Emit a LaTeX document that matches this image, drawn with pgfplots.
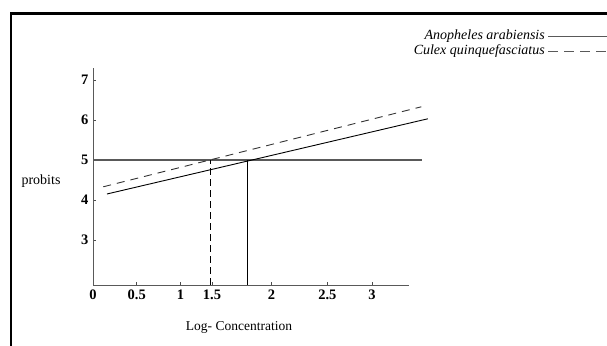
\documentclass[border=0pt]{standalone}
\usepackage{pgfplots}
\pgfplotsset{compat=1.18}
\usepackage{fontspec}
\setmainfont{Liberation Serif}
\begin{document}
\begin{tikzpicture}[x=1pt,y=1pt]
\useasboundingbox (0,0) rectangle (607,345);
\draw[line width=2.6pt] (11,-2) -- (11,331.5) -- (610,331.5);
\begin{axis}[
  at={(93pt,60pt)}, anchor=south west,
  scale only axis, width=316.2pt, height=217pt,
  xmin=0, xmax=3.4, ymin=1.875, ymax=7.3,
  axis x line=bottom, axis y line=left,
  axis line style={black!65, line width=0.8pt, -},
  clip=false,
  xtick={0,0.47,0.94,1.28,1.92,2.52,3.0},
  xticklabels={0,0.5,1,1.5,2,2.5,3},
  ytick={3,4,5,6,7},
  tick align=inside, major tick length=3pt,
  tick style={black!70, line width=0.6pt},
  ticklabel style={font=\fontsize{14.5}{16}\selectfont\bfseries},
  /pgf/number format/assume math mode=true,
  xticklabel style={yshift=-1pt},
  yticklabel style={xshift=-1pt},
]
\addplot[black!65, line width=1.2pt] coordinates {(0,5) (3.54,5)};
\addplot[black, line width=0.9pt] coordinates {(0.15,4.15) (3.6,6.03)};
\addplot[black!80, line width=0.9pt, dash pattern=on 8pt off 6pt] coordinates {(0.11,4.33) (3.53,6.33)};
\addplot[black, line width=0.9pt, dash pattern=on 7pt off 4pt] coordinates {(1.26,1.875) (1.26,5)};
\addplot[black, line width=0.9pt] coordinates {(1.66,1.875) (1.66,5)};
\end{axis}
\node[font=\fontsize{14}{16}\selectfont] at (41,164) {probits};
\node[font=\fontsize{13.5}{15}\selectfont] at (239,18) {Log- Concentration};
\node[anchor=east, font=\fontsize{14}{16}\selectfont\itshape, inner sep=1pt] at (546,309) {Anopheles arabiensis};
\node[anchor=east, font=\fontsize{14}{16}\selectfont\itshape, inner sep=1pt] at (546,294) {Culex quinquefasciatus};
\draw[black!65, line width=0.9pt] (548,309) -- (607,309);
\draw[black!65, line width=0.9pt, dash pattern=on 10pt off 6pt] (548,294) -- (607,294);
\end{tikzpicture}
\end{document}
